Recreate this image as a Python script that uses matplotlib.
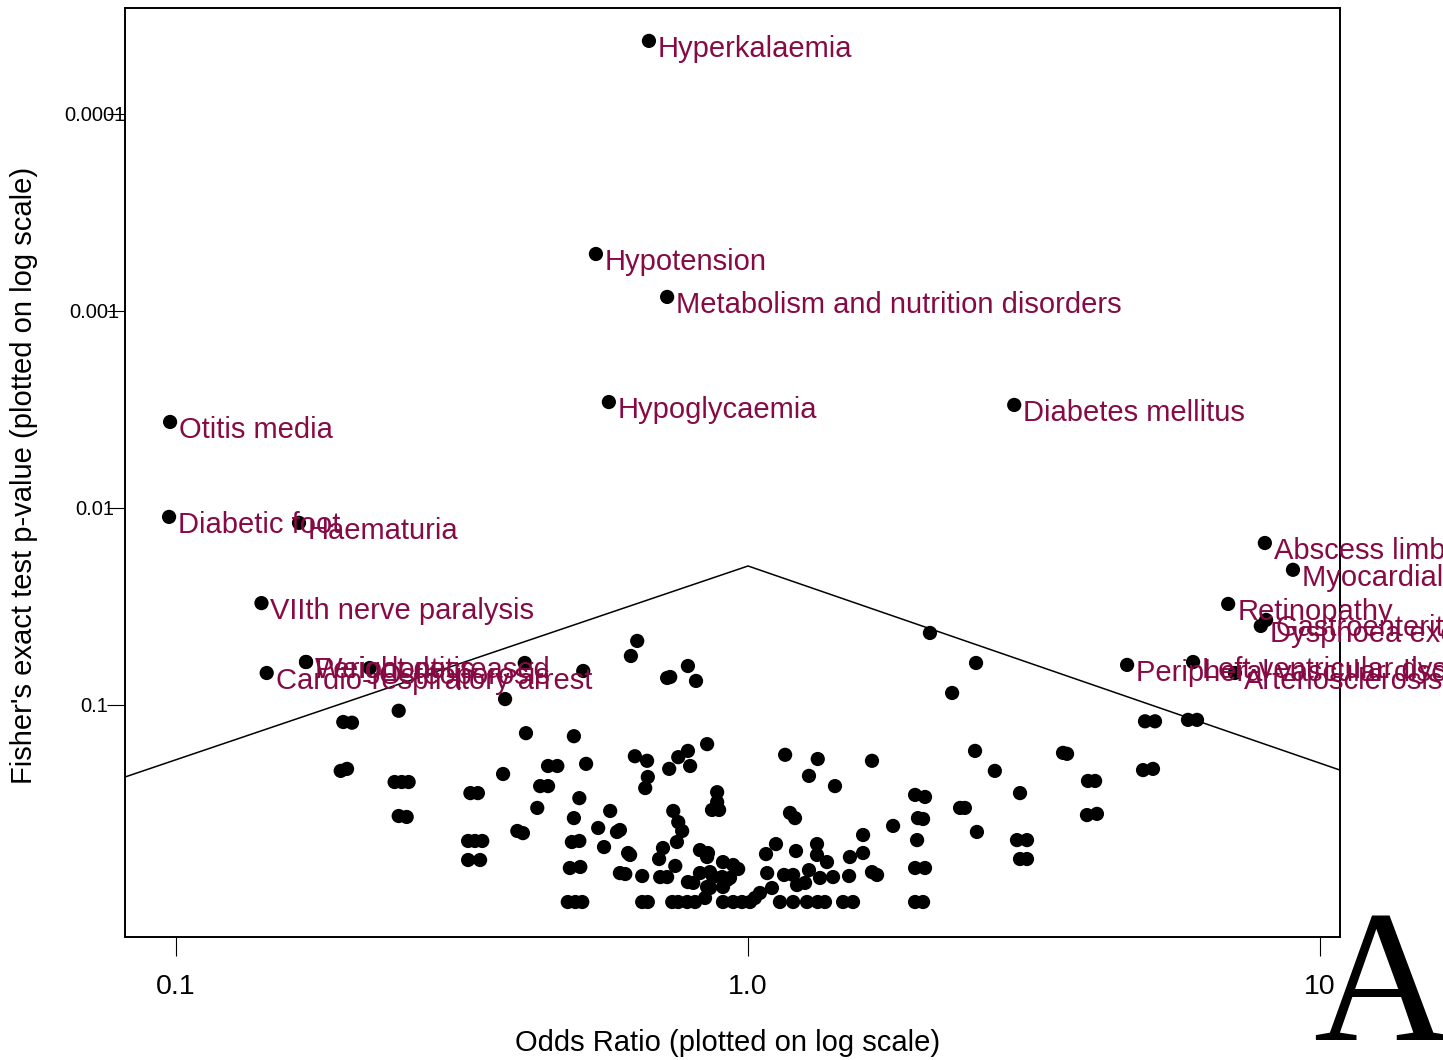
import numpy as np
import matplotlib
matplotlib.use("Agg")
import matplotlib.pyplot as plt
from matplotlib.ticker import FixedLocator, NullLocator

plt.rcParams['font.family'] = ['Liberation Sans', 'DejaVu Sans']

# labelled adverse events (above the threshold line)
event_names = ['Hyperkalaemia', 'Hypotension', 'Metabolism and nutrition disorders',
               'Hypoglycaemia', 'Diabetes mellitus', 'Otitis media', 'Diabetic foot',
               'Haematuria', 'VIIth nerve paralysis', 'Weight decreased', 'Periodontitis',
               'Osteoporosis', 'Cardio-respiratory arrest', 'Abscess limb',
               'Myocardial infarction', 'Retinopathy', 'Gastroenteritis',
               'Dyspnoea exertional', 'Peripheral vascular disorder',
               'Left ventricular dysfunction', 'Arteriosclerosis']
event_or = [0.671, 0.542, 0.722, 0.571, 2.92, 0.0976, 0.0972, 0.164, 0.141, 0.1687, 0.1687,
            0.218, 0.144, 8.01, 8.97, 6.91, 8.05, 7.88, 4.60, 6.00, 7.10]
event_p = [4.26e-5, 5.14e-4, 8.49e-4, 2.90e-3, 3.0e-3, 3.66e-3, 0.0111, 0.0119, 0.0304,
           0.0605, 0.0605, 0.0649, 0.0688, 0.01506, 0.0206, 0.0307, 0.0370, 0.0397,
           0.0626, 0.0605, 0.0688]

# all the other events (odds ratio, p-value)
other_or = [0.407, 0.515, 0.196, 0.203, 0.245, 0.376, 0.409, 0.496, 0.194, 0.199,
            0.241, 0.248, 0.255, 0.245, 0.253, 0.327, 0.337, 0.373, 0.447, 0.464,
            0.521, 0.433, 0.447, 0.507, 0.428, 0.496, 0.395, 0.404, 0.324, 0.333,
            0.343, 0.324, 0.340, 0.492, 0.507, 0.488, 0.509, 0.484, 0.499, 0.513,
            0.547,
            0.640, 0.624, 0.785, 0.722, 0.731, 0.811, 2.080, 2.504, 2.274, 0.634,
            0.666, 0.668, 0.661, 0.728, 0.755, 0.785, 0.792, 0.848, 0.574, 0.590,
            0.597, 0.560, 0.617, 0.622, 0.740, 0.755, 0.767, 0.751, 0.710, 0.699,
            0.746, 0.883, 0.883, 0.865, 0.890, 0.824, 0.851, 0.848, 0.597, 0.610,
            0.653, 0.702, 0.722, 0.785, 0.802, 0.824, 0.858, 0.869, 0.848, 0.858,
            0.904, 0.942, 0.961, 0.901, 0.919, 0.930, 0.904, 0.653, 0.668, 0.737,
            0.755, 0.783, 0.808, 0.841, 0.904, 0.942, 0.976, 1.008, 1.028, 1.049,
            1.101, 1.080, 1.075, 1.119, 1.161, 1.324, 1.278, 1.419, 1.647, 1.184,
            1.208, 1.213, 1.320, 1.320, 1.374, 1.278, 1.156, 1.199, 1.218, 1.258,
            1.336, 1.408, 1.137, 1.199, 1.268, 1.324, 1.363, 1.507, 1.502, 1.466,
            1.526, 1.589, 1.589, 1.647, 1.681, 1.793, 1.959, 2.039, 1.982, 2.023,
            1.975, 1.959, 2.039, 1.959, 2.023, 2.494, 2.701, 2.989, 2.348, 2.394,
            2.513, 2.953, 3.074, 2.989, 3.074,
            3.554, 3.612, 3.930, 4.044, 3.914, 4.074, 4.944, 5.147, 5.878, 6.095,
            4.905, 5.105]
other_p = [0.0612, 0.0672, 0.122, 0.123, 0.107, 0.0933, 0.139, 0.144, 0.216, 0.211,
           0.246, 0.246, 0.246, 0.366, 0.370, 0.280, 0.280, 0.224, 0.204, 0.204,
           0.199, 0.258, 0.258, 0.297, 0.333, 0.375, 0.436, 0.447, 0.490, 0.490,
           0.490, 0.612, 0.612, 0.496, 0.490, 0.672, 0.664, 1.0, 1.0, 1.0,
           0.421,
           0.0473, 0.0564, 0.0634, 0.0729, 0.0721, 0.0755, 0.0431, 0.0612, 0.0869, 0.182,
           0.192, 0.232, 0.264, 0.211, 0.184, 0.171, 0.204, 0.158, 0.345, 0.441,
           0.431, 0.526, 0.564, 0.577, 0.345, 0.393, 0.436, 0.496, 0.532, 0.605,
           0.656, 0.277, 0.311, 0.341, 0.341, 0.545, 0.564, 0.591, 0.713, 0.721,
           0.738, 0.747, 0.747, 0.792, 0.800, 0.713, 0.705, 0.747, 0.839, 0.849,
           0.627, 0.649, 0.680, 0.747, 0.773, 0.755, 0.839, 1.0, 1.0, 1.0,
           1.0, 1.0, 1.0, 0.954, 1.0, 1.0, 1.0, 1.0, 0.954, 0.900,
           0.849, 0.713, 0.571, 0.508, 0.179, 0.188, 0.229, 0.258, 0.192, 0.353,
           0.375, 0.551, 0.508, 0.577, 0.627, 0.689, 0.729, 0.729, 0.820, 0.800,
           0.755, 0.747, 1.0, 1.0, 1.0, 1.0, 1.0, 0.591, 0.738, 1.0,
           1.0, 0.457, 0.564, 0.705, 0.729, 0.411, 0.286, 0.293, 0.375, 0.379,
           0.485, 0.672, 0.672, 1.0, 1.0, 0.171, 0.216, 0.280, 0.333, 0.333,
           0.441, 0.485, 0.485, 0.605, 0.605,
           0.175, 0.177, 0.243, 0.243, 0.362, 0.357, 0.121, 0.121, 0.119, 0.119,
           0.214, 0.211]

# signal threshold line
line_or = [0.0814, 1.0, 10.84]
line_p = [0.232, 0.0197, 0.214]

xticks = [0.1, 1.0, 10]
xtick_labels = ['0.1', '1.0', '10']
yticks = [0.0001, 0.001, 0.01, 0.1]
ytick_labels = ['0.0001', '0.001', '0.01', '0.1']

label_color = '#860B45'

fig = plt.figure(figsize=(14.43, 10.60), dpi=100)
ax = fig.add_axes([0.08663, 0.11604, 0.84200, 0.87642])

ax.plot(line_or, line_p, color='black', lw=1.1, zorder=1)
ax.scatter(other_or, other_p, s=105, color='black', edgecolors='none', zorder=2)
ax.scatter(event_or, event_p, s=105, color='black', edgecolors='none', zorder=2)

for name, x, y in zip(event_names, event_or, event_p):
    ax.annotate(name, (x, y), xytext=(6.5, -11.5), textcoords='offset points',
                ha='left', va='baseline', fontsize=21, color=label_color,
                annotation_clip=False, clip_on=False, zorder=3)

ax.set_xscale('log')
ax.set_yscale('log')
ax.set_xlim(0.0814, 10.84)
ax.set_ylim(1.505, 2.9e-5)

ax.xaxis.set_major_locator(FixedLocator(xticks))
ax.xaxis.set_minor_locator(NullLocator())
ax.set_xticklabels(xtick_labels)
ax.yaxis.set_major_locator(FixedLocator(yticks))
ax.yaxis.set_minor_locator(NullLocator())
ax.set_yticklabels(ytick_labels)

ax.tick_params(axis='x', direction='out', length=14, width=0.8, pad=13, labelsize=20.5)
ax.tick_params(axis='y', direction='out', length=13, width=0.8, pad=9, labelsize=14.5)
for lab in ax.get_yticklabels():
    lab.set_horizontalalignment('center')

for sp in ax.spines.values():
    sp.set_linewidth(1.4)

ax.set_xlabel('Odds Ratio (plotted on log scale)', fontsize=21)
ax.xaxis.set_label_coords(0.496, -0.099)
ax.set_ylabel("Fisher's exact test p-value (plotted on log scale)", fontsize=21)
ax.yaxis.set_label_coords(-0.0716, 0.497)

fig.text(1313 / 1443, 1 - 1040 / 1060, 'A', ha='left', va='baseline',
         fontsize=136, family='Liberation Serif')

fig.savefig('out.png', dpi=100)
